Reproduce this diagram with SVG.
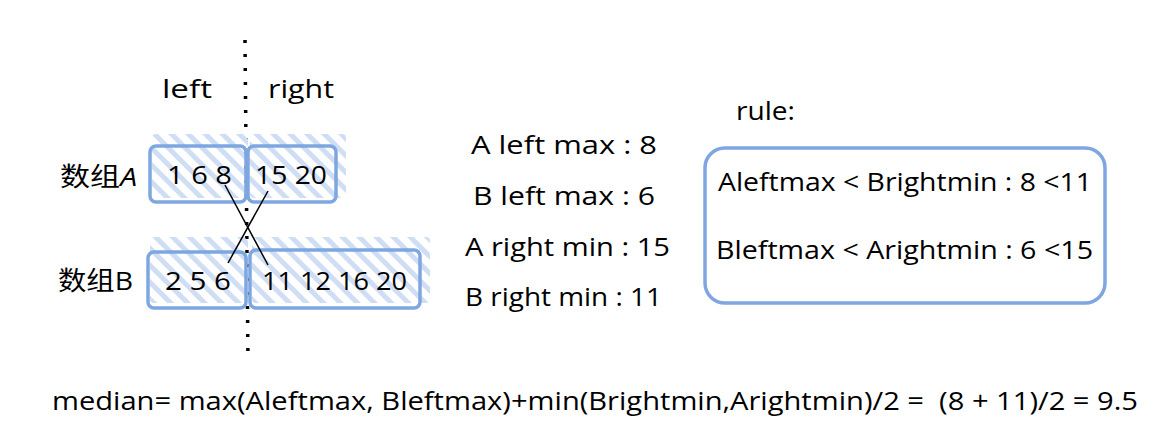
<svg xmlns="http://www.w3.org/2000/svg" width="1173" height="435" viewBox="0 0 1173 435">
<style>
.t{font-family:"Open Sans","Noto Sans","Noto Sans CJK SC",sans-serif;font-size:26px;fill:#000}
.box{fill:none;stroke:#7ea6e0;stroke-width:3.5}
.hatch{fill:url(#hp)}
</style>
<defs>
<pattern id="hp" width="12" height="12" patternUnits="userSpaceOnUse" patternTransform="rotate(-45)">
<rect x="0" y="0" width="5" height="12" fill="#cfdef5"/>
</pattern>
</defs>
<rect width="1173" height="435" fill="#fff"/>
<g id="divider">
<line x1="245" y1="40" x2="248" y2="362" stroke="#000" stroke-width="3.5" stroke-dasharray="3 11"/>
</g>
<g id="labels">
<text class="t" x="162" y="98" textLength="50" lengthAdjust="spacingAndGlyphs">left</text>
<text class="t" x="268" y="98" textLength="66" lengthAdjust="spacingAndGlyphs">right</text>
<text class="t" x="60" y="186" textLength="77" lengthAdjust="spacingAndGlyphs">数组<tspan font-style="italic">A</tspan></text>
<text class="t" x="58" y="290" textLength="75" lengthAdjust="spacingAndGlyphs">数组B</text>
</g>
<g id="nodeA-left">
<rect class="hatch" x="152" y="134" width="96" height="64" rx="4"/>
<rect class="box" x="150" y="146" width="96" height="56" rx="6"/>
<text class="t" x="167" y="184" textLength="65" lengthAdjust="spacingAndGlyphs">1 6 8</text>
</g>
<g id="nodeA-right">
<rect class="hatch" x="250" y="134" width="96" height="64" rx="4"/>
<rect class="box" x="248" y="146" width="88" height="56" rx="6"/>
<text class="t" x="255" y="184" textLength="72" lengthAdjust="spacingAndGlyphs">15 20</text>
</g>
<g id="nodeB-left">
<rect class="hatch" x="150" y="237" width="98" height="66" rx="4"/>
<rect class="box" x="148" y="252" width="98" height="56" rx="6"/>
<text class="t" x="165" y="290" textLength="66" lengthAdjust="spacingAndGlyphs">2 5 6</text>
</g>
<g id="nodeB-right">
<rect class="hatch" x="252" y="237" width="178" height="66" rx="4"/>
<rect class="box" x="250" y="250" width="170" height="58" rx="6"/>
<text class="t" x="262" y="290" textLength="145" lengthAdjust="spacingAndGlyphs">11 12 16 20</text>
</g>
<g id="connectors" stroke="#000" stroke-width="1.5" fill="none">
<line x1="225" y1="185" x2="268" y2="265"/>
<line x1="268" y1="191" x2="228" y2="263"/>
</g>
<g id="values">
<text class="t" x="471" y="154" textLength="186" lengthAdjust="spacingAndGlyphs">A left max : 8</text>
<text class="t" x="473" y="205" textLength="182" lengthAdjust="spacingAndGlyphs">B left max : 6</text>
<text class="t" x="465" y="256" textLength="205" lengthAdjust="spacingAndGlyphs">A right min : 15</text>
<text class="t" x="465" y="306" textLength="197" lengthAdjust="spacingAndGlyphs">B right min : 11</text>
</g>
<g id="rule">
<text class="t" x="736" y="120" textLength="59" lengthAdjust="spacingAndGlyphs">rule:</text>
<rect class="box" x="705" y="148" width="400" height="155" rx="20"/>
<text class="t" x="718" y="191" textLength="374" lengthAdjust="spacingAndGlyphs">Aleftmax &lt; Brightmin : 8 &lt;11</text>
<text class="t" x="716" y="259" textLength="377" lengthAdjust="spacingAndGlyphs">Bleftmax &lt; Arightmin : 6 &lt;15</text>
</g>
<g id="formula">
<text class="t" x="52" y="410" textLength="1086" lengthAdjust="spacingAndGlyphs" xml:space="preserve">median= max(Aleftmax, Bleftmax)+min(Brightmin,Arightmin)/2 =  (8 + 11)/2 = 9.5</text>
</g>
</svg>
